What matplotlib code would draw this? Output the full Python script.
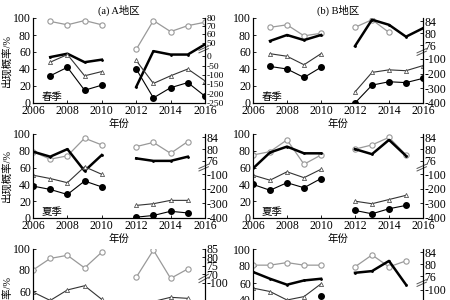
import numpy as np
import matplotlib.pyplot as plt

plt.rcParams['font.family'] = ['Liberation Serif', 'Noto Sans CJK SC']
plt.rcParams['font.size'] = 8

nan = np.nan
years = np.arange(2006, 2017)

# (a) A地区 春季
a_gray = [nan, 96, 92, 97, 92, nan, 63, 97, 84, 91, 95]
a_thick = [nan, 54, 58, 48, 51, nan, 19, 61, 57, 57, 69]
a_tri = [nan, 48, 57, 32, 37, nan, 50, 23, 32, 40, 26]
a_dot = [nan, 32, 42, 15, 21, nan, 40, 6, 18, 24, 8]
a_hi = [50, 60, 70, 80]
a_lo = [-250, -200, -150, -100, -50, 0]

# (b) B地区 春季
b_gray = [nan, 89, 92, 79, 82, nan, 89, 98, 83, nan, nan]
b_thick = [nan, 73, 80, 74, 80, nan, 67, 98, 92, 78, 88]
b_tri = [nan, 58, 55, 45, 58, nan, 13, 36, 39, 38, 44]
b_dot = [nan, 43, 40, 30, 42, nan, 0, 21, 25, 24, 29]
b_hi = [76, 80, 84]
b_lo = [-400, -300, -200, -100]

# 夏季, A
c_gray = [79, 70, 74, 95, 87, nan, 85, 90, 77, 91, nan]
c_thick = [79, 73, 82, 56, 75, nan, 71, 68, 68, 73, nan]
c_tri = [51, 47, 42, 61, 52, nan, 15, 17, 21, 21, nan]
c_dot = [38, 34, 28, 44, 37, nan, 1, 3, 8, 6, nan]

# 夏季, B
d_gray = [75, 79, 93, 64, 75, nan, 82, 87, 96, 75, nan]
d_thick = [59, 78, 85, 77, 77, nan, 82, 76, 93, 74, nan]
d_tri = [51, 45, 55, 48, 58, nan, 20, 17, 22, 27, nan]
d_dot = [40, 33, 42, 36, 47, nan, 9, 5, 11, 15, nan]

# third row (cut off at the bottom)
e_gray = [80, 91, 94, 82, 97, nan, 73, 99, 72, 81, nan]
e_thin = [59, 51, 61, 65, 52, nan, nan, 50, 54, 53, nan]
e_hi = [70, 75, 80, 85]
e_lo = [-400, -300, -200, -100]

f_gray = [81, 81, 84, 81, 81, nan, 79, 93, 79, 86, nan]
f_thick = [73, 65, 58, 63, 65, nan, 72, 74, 86, 58, nan]
f_tri = [54, 50, 40, 44, 59, nan, nan, nan, nan, nan, nan]
f_dot = [nan, nan, nan, nan, 45, nan, nan, nan, nan, nan, nan]

panels = [
    dict(rect=[33, 18, 172, 85], title='(a) A地区', season='春季',
         gray=a_gray, thick=a_thick, tri=a_tri, dot=a_dot, rsize=6.8,
         hi=a_hi, lo=a_lo, hi_span=(71, 100), lo_span=(0, 55), brk=63, ylab=True),
    dict(rect=[253, 18, 170, 85], title='(b) B地区', season='春季',
         gray=b_gray, thick=b_thick, tri=b_tri, dot=b_dot, rsize=8.5,
         hi=b_hi, lo=b_lo, hi_span=(68, 96), lo_span=(0, 52), brk=60, ylab=False),
    dict(rect=[33, 134, 172, 84], title=None, season='夏季',
         gray=c_gray, thick=c_thick, tri=c_tri, dot=c_dot, rsize=8.5,
         hi=b_hi, lo=b_lo, hi_span=(68, 96), lo_span=(0, 52), brk=60, ylab=True),
    dict(rect=[253, 134, 170, 84], title=None, season='夏季',
         gray=d_gray, thick=d_thick, tri=d_tri, dot=d_dot, rsize=8.5,
         hi=b_hi, lo=b_lo, hi_span=(68, 96), lo_span=(0, 52), brk=60, ylab=False),
    dict(rect=[33, 249, 172, 105], title=None, season=None,
         gray=e_gray, thick=None, tri=e_thin, dot=None, rsize=8.5,
         hi=e_hi, lo=e_lo, hi_span=(76, 100), lo_span=(0, 68), brk=72, ylab=True),
    dict(rect=[253, 249, 170, 85], title=None, season=None,
         gray=f_gray, thick=f_thick, tri=f_tri, dot=f_dot, rsize=8.5,
         hi=b_hi, lo=b_lo, hi_span=(68, 96), lo_span=(0, 52), brk=60, ylab=False),
]

W, H = 450, 300
fig = plt.figure(figsize=(4.5, 3.0), dpi=100)


def draw_panel(p):
    x, y, w, h = p['rect']
    ax = fig.add_axes([x / W, 1 - (y + h) / H, w / W, h / H])

    if p['gray'] is not None:
        ax.plot(years, p['gray'], color='#999999', lw=0.9, marker='o', ms=3.8,
                mfc='white', mec='#999999', mew=0.8)
    if p['thick'] is not None:
        ax.plot(years, p['thick'], color='black', lw=1.8, marker='.', ms=2)
    if p['tri'] is not None:
        ax.plot(years, p['tri'], color='#333333', lw=0.8, marker='^', ms=3,
                mfc='white', mec='#555555', mew=0.6)
    if p['dot'] is not None:
        ax.plot(years, p['dot'], color='black', lw=0.8, marker='o', ms=4)

    ax.set_xlim(2006, 2016)
    ax.set_ylim(0, 100)
    ax.set_xticks(range(2006, 2017, 2))
    ax.set_yticks(range(0, 101, 20))
    ax.tick_params(direction='in', length=2.5, width=0.6, pad=1.5,
                   labelsize=8.5, top=False, right=False)
    ax.spines['top'].set_visible(False)
    for s in ax.spines.values():
        s.set_linewidth(0.8)
    ax.set_xlabel('年份', fontsize=7.5, labelpad=1)
    if p['ylab']:
        ax.set_ylabel('出现概率/%', fontsize=7.5, labelpad=1)
    if p['title']:
        ax.set_title(p['title'], fontsize=7.5, pad=3)
    if p['season']:
        ax.text(0.05, 0.04, p['season'], transform=ax.transAxes, fontsize=7.5)

    # right axis with a broken scale
    ax2 = ax.twinx()
    ax2.set_ylim(0, 100)
    pos = list(np.linspace(*p['lo_span'], len(p['lo']))) + \
        list(np.linspace(*p['hi_span'], len(p['hi'])))
    ax2.set_yticks(pos)
    ax2.set_yticklabels([str(v) for v in p['lo'] + p['hi']])
    ax2.tick_params(direction='in', length=2.5, width=0.6, pad=1,
                    labelsize=p['rsize'])
    ax2.spines['top'].set_visible(False)
    ax2.spines['right'].set_linewidth(0.8)
    b = p['brk']
    for d in (-1.5, 1.5):
        ax2.plot([2015.65, 2016.2], [b - 2.5 + d, b + 2.5 + d], color='#555555',
                 lw=0.7, clip_on=False)


for p in panels:
    draw_panel(p)

fig.savefig('out.png', dpi=100)
